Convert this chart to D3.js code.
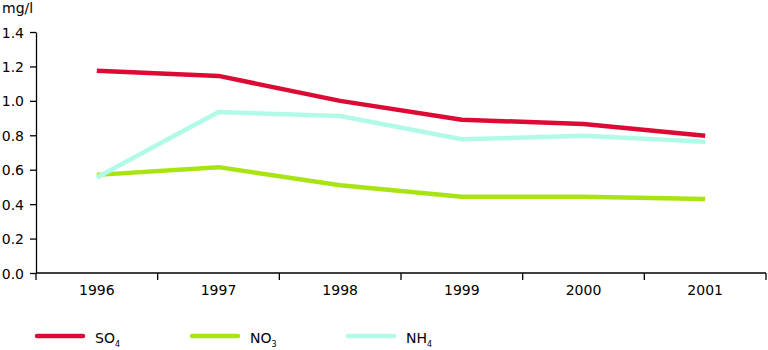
<!DOCTYPE html>
<html>
<head>
<meta charset="utf-8">
<script src="https://cdn.jsdelivr.net/npm/d3@7"></script>
<style>
  html, body { margin: 0; padding: 0; background: #fff; }
  svg { display: block; font-family: "DejaVu Sans", sans-serif; }
</style>
</head>
<body>
<svg id="chart" width="768" height="350"></svg>
<script>
const years = ["1996", "1997", "1998", "1999", "2000", "2001"];
const so4 = [1.175, 1.145, 1.0, 0.89, 0.866, 0.797];
const no3 = [0.57, 0.615, 0.51, 0.443, 0.443, 0.43];
const nh4 = [0.555, 0.935, 0.912, 0.777, 0.797, 0.762];
const yTicks = [0, 0.2, 0.4, 0.6, 0.8, 1.0, 1.2, 1.4];
const seriesNames = ["SO", "NO", "NH"];
const seriesSubs = ["4", "3", "4"];
const seriesColors = ["#dc0a34", "#a8e412", "#b2fae8"];

const FONT = "'DejaVu Sans', sans-serif";
const svg = d3.select("#chart");
const plotLeft = 36, plotRight = 766, plotTop = 32, plotBottom = 273;

const x = d3.scaleBand().domain(years).range([plotLeft, plotRight]);
const y = d3.scaleLinear().domain([0, 1.4]).range([plotBottom, plotTop]);

// Y axis
const yAxis = svg.append("g")
  .attr("transform", `translate(${plotLeft},0)`)
  .call(d3.axisLeft(y).tickValues(yTicks).tickFormat(d3.format(".1f")).tickSize(6).tickSizeOuter(0));
yAxis.attr("font-family", null).attr("font-size", null);
yAxis.select(".domain").attr("stroke", "#000").attr("stroke-width", 1.3);
yAxis.selectAll(".tick line").attr("stroke", "#000").attr("stroke-width", 1.3);
yAxis.selectAll(".tick text").attr("x", -12).attr("dy", "0.36em")
  .style("font-size", "14px").style("font-family", FONT).attr("fill", "#000");

// X axis with ticks on band boundaries
const xAxis = svg.append("g").attr("transform", `translate(0,${plotBottom})`);
xAxis.append("line").attr("x1", plotLeft).attr("x2", plotRight).attr("y1", 0).attr("y2", 0)
  .attr("stroke", "#000").attr("stroke-width", 1.3);
const bounds = years.map(d => x(d)).concat([x(years[years.length - 1]) + x.bandwidth()]);
xAxis.selectAll("line.tk").data(bounds).join("line").attr("class", "tk")
  .attr("x1", d => d).attr("x2", d => d).attr("y1", 0).attr("y2", 7)
  .attr("stroke", "#000").attr("stroke-width", 1.3);
xAxis.selectAll("text").data(years).join("text")
  .attr("x", d => x(d) + x.bandwidth() / 2).attr("y", 22)
  .attr("text-anchor", "middle").style("font-size", "14px").style("font-family", FONT)
  .attr("fill", "#000")
  .text(d => d);

// Unit label
svg.append("text").attr("x", 2).attr("y", 13)
  .style("font-size", "14px").style("font-family", FONT).attr("fill", "#000").text("mg/l");

// Lines, later series drawn on top
const series = [so4, no3, nh4];
const line = d3.line()
  .x((d, i) => x(years[i]) + x.bandwidth() / 2)
  .y(d => y(d));
[0, 1, 2].forEach(k => {
  svg.append("path").datum(series[k])
    .attr("d", line).attr("fill", "none")
    .attr("stroke", seriesColors[k]).attr("stroke-width", 4.5)
    .attr("stroke-linejoin", "round");
});

// Legend
const legendX = [36, 191, 347];
const legend = svg.append("g");
seriesNames.forEach((name, i) => {
  const g = legend.append("g").attr("transform", `translate(${legendX[i]},336)`);
  g.append("line").attr("x1", 1).attr("x2", 47).attr("y1", 0).attr("y2", 0)
    .attr("stroke", seriesColors[i]).attr("stroke-width", 4.5).attr("stroke-linecap", "round");
  const t = g.append("text").attr("x", 59).attr("y", 7)
    .style("font-size", "14px").style("font-family", FONT).attr("fill", "#000");
  t.append("tspan").text(name);
  t.append("tspan").style("font-size", "8px").attr("dy", 4).text(seriesSubs[i]);
});
</script>
</body>
</html>
